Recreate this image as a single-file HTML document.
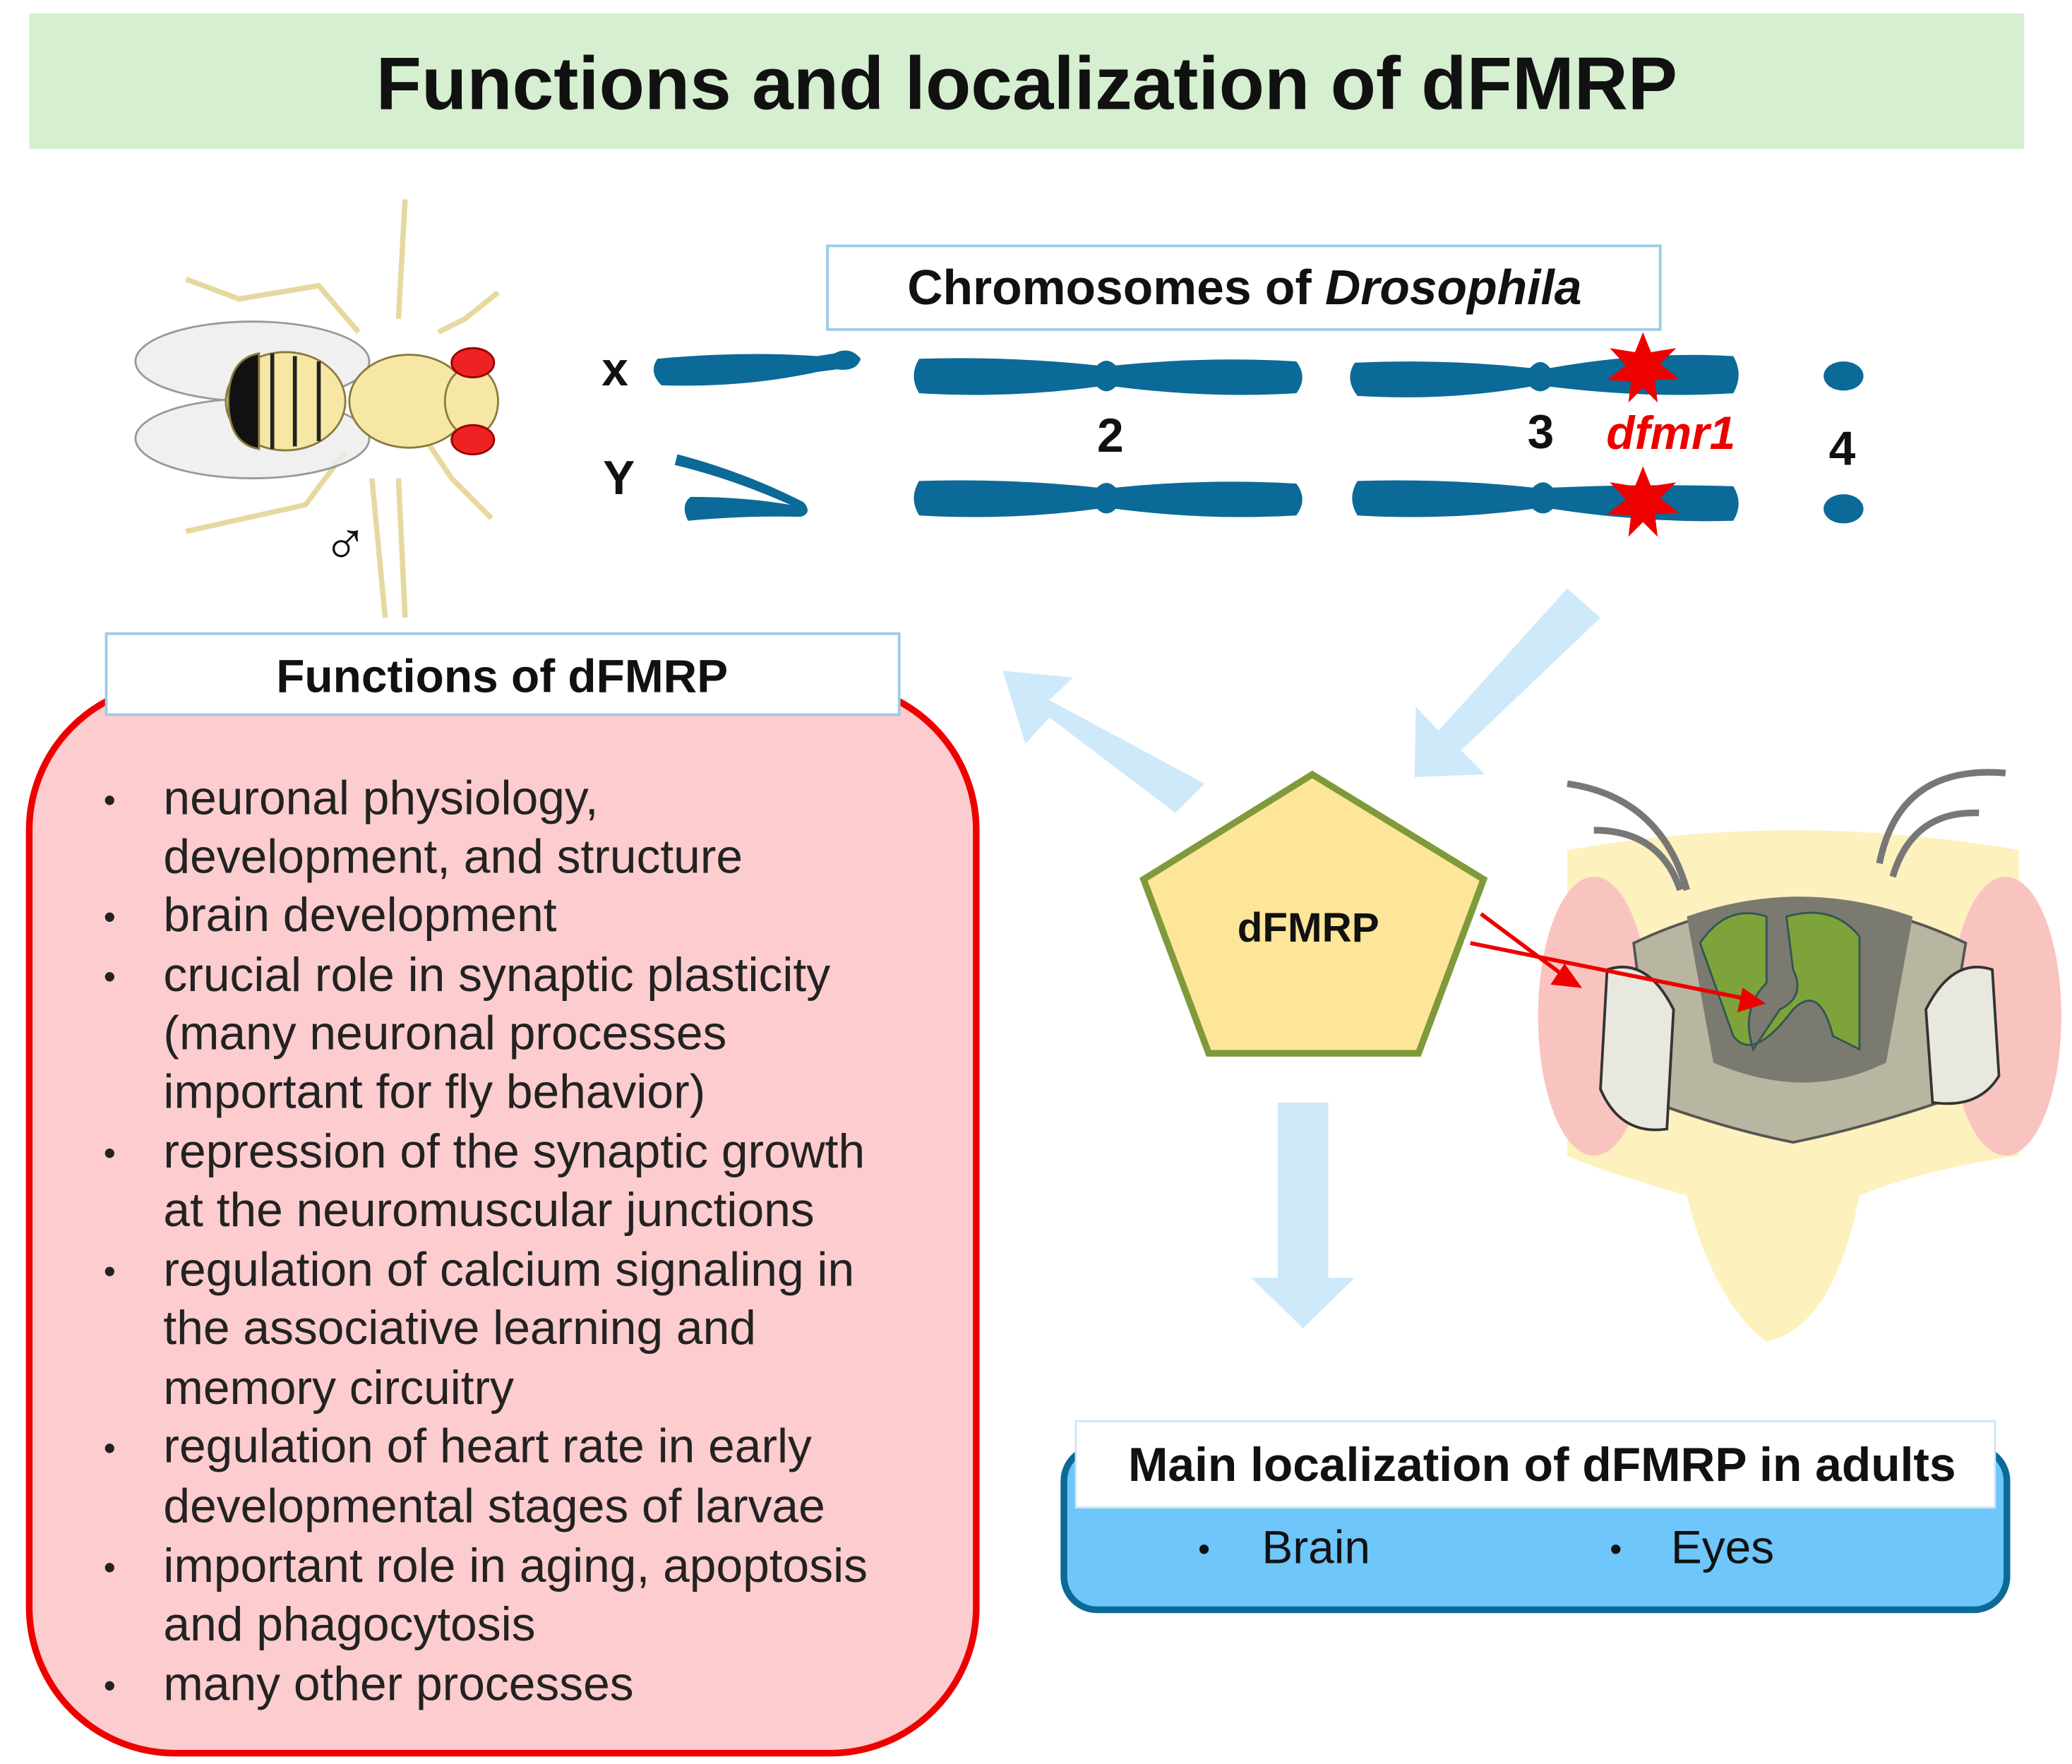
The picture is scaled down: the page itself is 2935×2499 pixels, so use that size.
<!DOCTYPE html>
<html><head><meta charset="utf-8"><style>html,body{margin:0;padding:0;background:#fff}svg{display:block}</style></head>
<body>
<svg xmlns="http://www.w3.org/2000/svg" width="2935" height="2499" viewBox="0 0 1560 1328" font-family="Liberation Sans, sans-serif">
<rect x="0" y="0" width="1560" height="1328" fill="#fff"/>
<rect x="22" y="10" width="1502" height="102" fill="#d5efd0"/>
<text x="773" y="82" font-size="56" font-weight="bold" text-anchor="middle" fill="#111">Functions and localization of dFMRP</text>

<g fill="#cde9fa">
<polygon points="1180,443 1205,465 1100,565 1118,583 1065,585 1066,532 1083,550"/>
<polygon points="907,590 885,612 790,540 772,560 755,505 808,510 790,527"/>
<polygon points="962,830 1000,830 1000,962 1020,962 981,1000 942,962 962,962"/>
</g>

<rect x="623" y="185" width="627" height="63" fill="#fff" stroke="#9ccbe8" stroke-width="2"/>
<text x="937" y="229" font-size="37" font-weight="bold" text-anchor="middle" fill="#111">Chromosomes of <tspan font-style="italic">Drosophila</tspan></text>

<g fill="#0b6a98">
<path d="M495,270 Q560,264 615,268 L628,266 Q640,260 648,270 Q645,280 630,278 L615,280 Q560,292 498,290 Q488,280 495,270Z"/>
<path d="M510,342 Q560,355 605,378 Q612,386 603,389 Q560,388 518,392 Q512,380 520,374 Q560,374 595,380 Q550,360 508,350Z"/>
<path d="M692,270 Q760,268 826,275 Q833,268 840,275 Q910,268 976,272 Q985,284 976,296 Q910,300 840,291 Q833,298 826,291 Q760,300 692,296 Q684,283 692,270Z"/>
<path d="M692,362 Q760,360 826,367 Q833,360 840,367 Q910,360 976,364 Q985,376 976,388 Q910,392 840,383 Q833,390 826,383 Q760,392 692,388 Q684,375 692,362Z"/>
<path d="M1020,273 Q1090,270 1152,277 Q1160,268 1167,277 Q1240,264 1305,268 Q1313,282 1305,296 Q1240,300 1167,291 Q1160,298 1152,291 Q1090,302 1022,298 Q1012,285 1020,273Z"/>
<path d="M1022,362 Q1090,360 1154,367 Q1162,359 1169,367 Q1240,364 1305,366 Q1313,379 1305,392 Q1240,394 1169,383 Q1162,390 1154,383 Q1090,392 1022,388 Q1014,375 1022,362Z"/>
<ellipse cx="1388" cy="283" rx="15" ry="11"/>
<ellipse cx="1388" cy="383" rx="15" ry="11"/>
</g>
<g fill="#e00">
<polygon points="1237,250 1243,265 1262,262 1250,274 1264,285 1246,286 1248,303 1237,292 1226,303 1228,287 1210,286 1224,275 1212,262 1231,265"/>
<polygon points="1237,351 1243,366 1262,363 1250,375 1264,386 1246,387 1248,404 1237,393 1226,404 1228,388 1210,387 1224,376 1212,363 1231,366"/>
</g>
<g font-size="36" font-weight="bold" fill="#111" text-anchor="middle">
<text x="463" y="290">x</text>
<text x="466" y="372">Y</text>
<text x="836" y="340">2</text>
<text x="1160" y="337">3</text>
<text x="1387" y="350">4</text>
</g>
<text x="1258" y="338" font-size="35" font-weight="bold" font-style="italic" fill="#e00" text-anchor="middle">dfmr1</text>

<g stroke="#8a7a40" stroke-width="1.5" fill="#f6e7a4">
<path d="M305,150 L300,240 M270,250 L240,215 L180,225 L140,210 M330,250 L350,240 L375,220 M260,340 L230,380 L140,400 M320,330 L340,360 L370,390 M300,360 L305,465 M280,360 L290,465" fill="none" stroke="#e6d9a0" stroke-width="4"/>
<ellipse cx="190" cy="272" rx="88" ry="30" fill="#ececec" fill-opacity="0.8" stroke="#999"/>
<ellipse cx="190" cy="330" rx="88" ry="30" fill="#ececec" fill-opacity="0.8" stroke="#999"/>
<ellipse cx="215" cy="302" rx="45" ry="37"/>
<path d="M172,302 Q172,270 195,266 L195,338 Q172,334 172,302Z" fill="#111"/>
<path d="M205,266 L205,338 M222,268 L222,336 M240,272 L240,332" stroke="#222" stroke-width="3"/>
<ellipse cx="308" cy="302" rx="45" ry="35"/>
<ellipse cx="355" cy="302" rx="20" ry="26"/>
<ellipse cx="356" cy="273" rx="16" ry="11" fill="#e22" stroke="#900"/>
<ellipse cx="356" cy="331" rx="16" ry="11" fill="#e22" stroke="#900"/>
</g>
<text x="260" y="425" font-size="46" text-anchor="middle" fill="#111">♂</text>

<rect x="22" y="515" width="713" height="805" rx="110" fill="#fcccce" stroke="#e00" stroke-width="5"/>
<rect x="80" y="477" width="597" height="61" fill="#fff" stroke="#9ccbe8" stroke-width="2"/>
<text x="378" y="521" font-size="35" font-weight="bold" text-anchor="middle" fill="#111">Functions of dFMRP</text>
<g font-size="36" fill="#222">
<g font-size="26"><text x="78" y="611">•</text><text x="78" y="699">•</text><text x="78" y="744">•</text><text x="78" y="877">•</text><text x="78" y="966">•</text><text x="78" y="1099">•</text><text x="78" y="1189">•</text><text x="78" y="1278">•</text></g>
<text x="123" y="613">neuronal physiology,</text>
<text x="123" y="657">development, and structure</text>
<text x="123" y="701">brain development</text>
<text x="123" y="746">crucial role in synaptic plasticity</text>
<text x="123" y="790">(many neuronal processes</text>
<text x="123" y="834">important for fly behavior)</text>
<text x="123" y="879">repression of the synaptic growth</text>
<text x="123" y="923">at the neuromuscular junctions</text>
<text x="123" y="968">regulation of calcium signaling in</text>
<text x="123" y="1012">the associative learning and</text>
<text x="123" y="1057">memory circuitry</text>
<text x="123" y="1101">regulation of heart rate in early</text>
<text x="123" y="1146">developmental stages of larvae</text>
<text x="123" y="1191">important role in aging, apoptosis</text>
<text x="123" y="1235">and phagocytosis</text>
<text x="123" y="1280">many other processes</text>
</g>

<polygon points="988,583 1117,662 1068,793 910,793 861,662" fill="#fde599" stroke="#7f9a3a" stroke-width="5"/>
<text x="985" y="709" font-size="31" font-weight="bold" text-anchor="middle" fill="#111">dFMRP</text>

<g>
<path d="M1180,640 Q1350,610 1520,640 L1520,870 Q1450,880 1400,900 Q1380,1000 1330,1010 Q1290,980 1270,900 Q1200,880 1180,870Z" fill="#fdf1bd"/>
<ellipse cx="1200" cy="765" rx="42" ry="105" fill="#f9c4c0"/>
<ellipse cx="1510" cy="765" rx="42" ry="105" fill="#f9c4c0"/>
<path d="M1180,590 Q1250,600 1270,670 M1200,625 Q1250,625 1265,670 M1510,582 Q1430,575 1415,650 M1490,612 Q1440,610 1425,660" stroke="#777" stroke-width="5" fill="none"/>
<path d="M1230,710 Q1355,650 1480,710 L1460,830 Q1400,850 1350,860 Q1300,850 1245,830Z" fill="#b8b5a0" stroke="#555" stroke-width="2"/>
<path d="M1270,690 Q1355,660 1440,690 L1420,800 Q1360,830 1290,800Z" fill="#7a7a70"/>
<path d="M1280,710 Q1300,680 1330,690 L1330,740 Q1310,760 1320,790 L1340,760 Q1360,750 1350,730 L1345,690 Q1380,680 1400,705 L1400,790 L1380,780 Q1370,740 1350,760 Q1320,800 1305,780Z" fill="#7ea33a" stroke="#355" stroke-width="1.5"/>
<path d="M1210,730 Q1240,720 1260,760 L1255,850 Q1220,855 1205,820Z" fill="#e9e8de" stroke="#333" stroke-width="2"/>
<path d="M1500,730 Q1470,720 1450,760 L1455,830 Q1490,835 1505,810Z" fill="#e9e8de" stroke="#333" stroke-width="2"/>
</g>
<g stroke="#e00" stroke-width="3" fill="#e00">
<line x1="1115" y1="688" x2="1178" y2="735"/><polygon points="1188,742 1170,740 1178,728"/>
<line x1="1107" y1="710" x2="1315" y2="752"/><polygon points="1326,755 1310,760 1313,746"/>
</g>

<rect x="801" y="1090" width="710" height="122" rx="25" fill="#6ec6fa" stroke="#0b6a98" stroke-width="5"/>
<rect x="810" y="1070" width="692" height="65" fill="#fff" stroke="#cfe6f4" stroke-width="1.5"/>
<text x="1161" y="1115" font-size="36" font-weight="bold" text-anchor="middle" fill="#111">Main localization of dFMRP in adults</text>
<g font-size="35" fill="#111">
<text x="902" y="1175" font-size="26">•</text><text x="950" y="1177">Brain</text>
<text x="1212" y="1175" font-size="26">•</text><text x="1258" y="1177">Eyes</text>
</g>
</svg>
</body></html>
